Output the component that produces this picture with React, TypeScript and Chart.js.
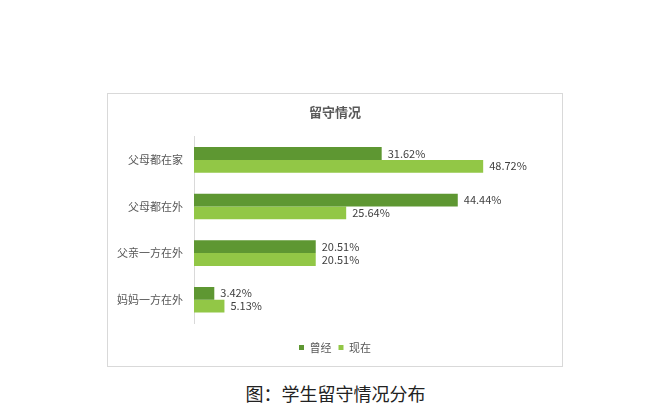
import React, { useEffect, useRef } from 'react';
import Chart from 'chart.js/auto';

const categories = ['父母都在家', '父母都在外', '父亲一方在外', '妈妈一方在外'];
const pastValues = [31.62, 44.44, 20.51, 3.42];
const nowValues = [48.72, 25.64, 20.51, 5.13];
const seriesNames = ['曾经', '现在'];

const FONT = '"Noto Sans CJK SC", "Noto Sans", sans-serif';

// draws "xx.xx%" right after the end of each bar
const valueLabels = {
  id: 'valueLabels',
  afterDatasetsDraw(chart: any) {
    const ctx = chart.ctx;
    ctx.save();
    ctx.font = `11px ${FONT}`;
    ctx.fillStyle = '#404040';
    ctx.textAlign = 'left';
    ctx.textBaseline = 'middle';
    chart.data.datasets.forEach((ds: any, i: number) => {
      const meta = chart.getDatasetMeta(i);
      meta.data.forEach((bar: any, j: number) => {
        ctx.fillText(ds.data[j].toFixed(2) + '%', bar.x + 6, bar.y);
      });
    });
    ctx.restore();
  },
};

const App: React.FC = () => {
  const chartRef = useRef<HTMLCanvasElement>(null);
  const chartInstance = useRef<Chart | null>(null);

  useEffect(() => {
    if (!chartRef.current) return;
    if (chartInstance.current) chartInstance.current.destroy();

    const ctx = chartRef.current.getContext('2d');
    if (!ctx) return;
    chartInstance.current = new Chart(ctx, {
      type: 'bar',
      data: {
        labels: categories,
        datasets: [
          {
            label: seriesNames[0],
            data: pastValues,
            backgroundColor: '#5e9732',
            barPercentage: 1,
            categoryPercentage: 0.55,
          },
          {
            label: seriesNames[1],
            data: nowValues,
            backgroundColor: '#92c746',
            barPercentage: 1,
            categoryPercentage: 0.55,
          },
        ],
      },
      options: {
        indexAxis: 'y',
        animation: false,
        responsive: true,
        maintainAspectRatio: false,
        layout: { padding: { left: 0, right: 0, top: 0, bottom: 3 } },
        scales: {
          x: {
            display: true,
            min: 0,
            max: 62,
            grid: { display: false, drawTicks: false },
            border: { display: false },
            ticks: { display: false },
            // empty strip between the bars and the legend
            afterFit: (scale: any) => {
              scale.height = 12;
            },
          },
          y: {
            grid: { display: false, drawTicks: false },
            border: { display: true, color: '#d9d9d9', width: 1 },
            ticks: {
              color: '#595959',
              padding: 11,
              font: { family: FONT, size: 11 },
            },
            afterFit: (scale: any) => {
              scale.width = 86;
            },
          },
        },
        plugins: {
          title: {
            display: true,
            text: '留守情况',
            color: '#595959',
            font: { family: FONT, size: 13, weight: 'bold' },
            padding: { top: 10, bottom: 17 },
          },
          legend: {
            position: 'bottom',
            labels: {
              color: '#595959',
              boxWidth: 5,
              boxHeight: 5,
              padding: 7,
              font: { family: FONT, size: 11 },
            },
          },
          tooltip: { enabled: false },
        },
      },
      plugins: [valueLabels],
    });

    return () => {
      if (chartInstance.current) {
        chartInstance.current.destroy();
        chartInstance.current = null;
      }
    };
  }, []);

  return (
    <div
      style={{
        position: 'absolute',
        left: 0,
        top: 0,
        width: 671,
        height: 417,
        background: '#ffffff',
        overflow: 'hidden',
      }}
    >
      <div
        style={{
          position: 'absolute',
          left: 107,
          top: 93,
          width: 456,
          height: 274,
          boxSizing: 'border-box',
          border: '1px solid #d9d9d9',
        }}
      >
        <div style={{ position: 'relative', width: 454, height: 272 }}>
          <canvas ref={chartRef}></canvas>
        </div>
      </div>
      <div
        style={{
          position: 'absolute',
          left: 0,
          width: 671,
          top: 381,
          textAlign: 'center',
          fontFamily: '"Noto Sans CJK SC", serif',
          fontSize: 18,
          lineHeight: '24px',
          color: '#222222',
        }}
      >
        图：学生留守情况分布
      </div>
    </div>
  );
};

export default App;
